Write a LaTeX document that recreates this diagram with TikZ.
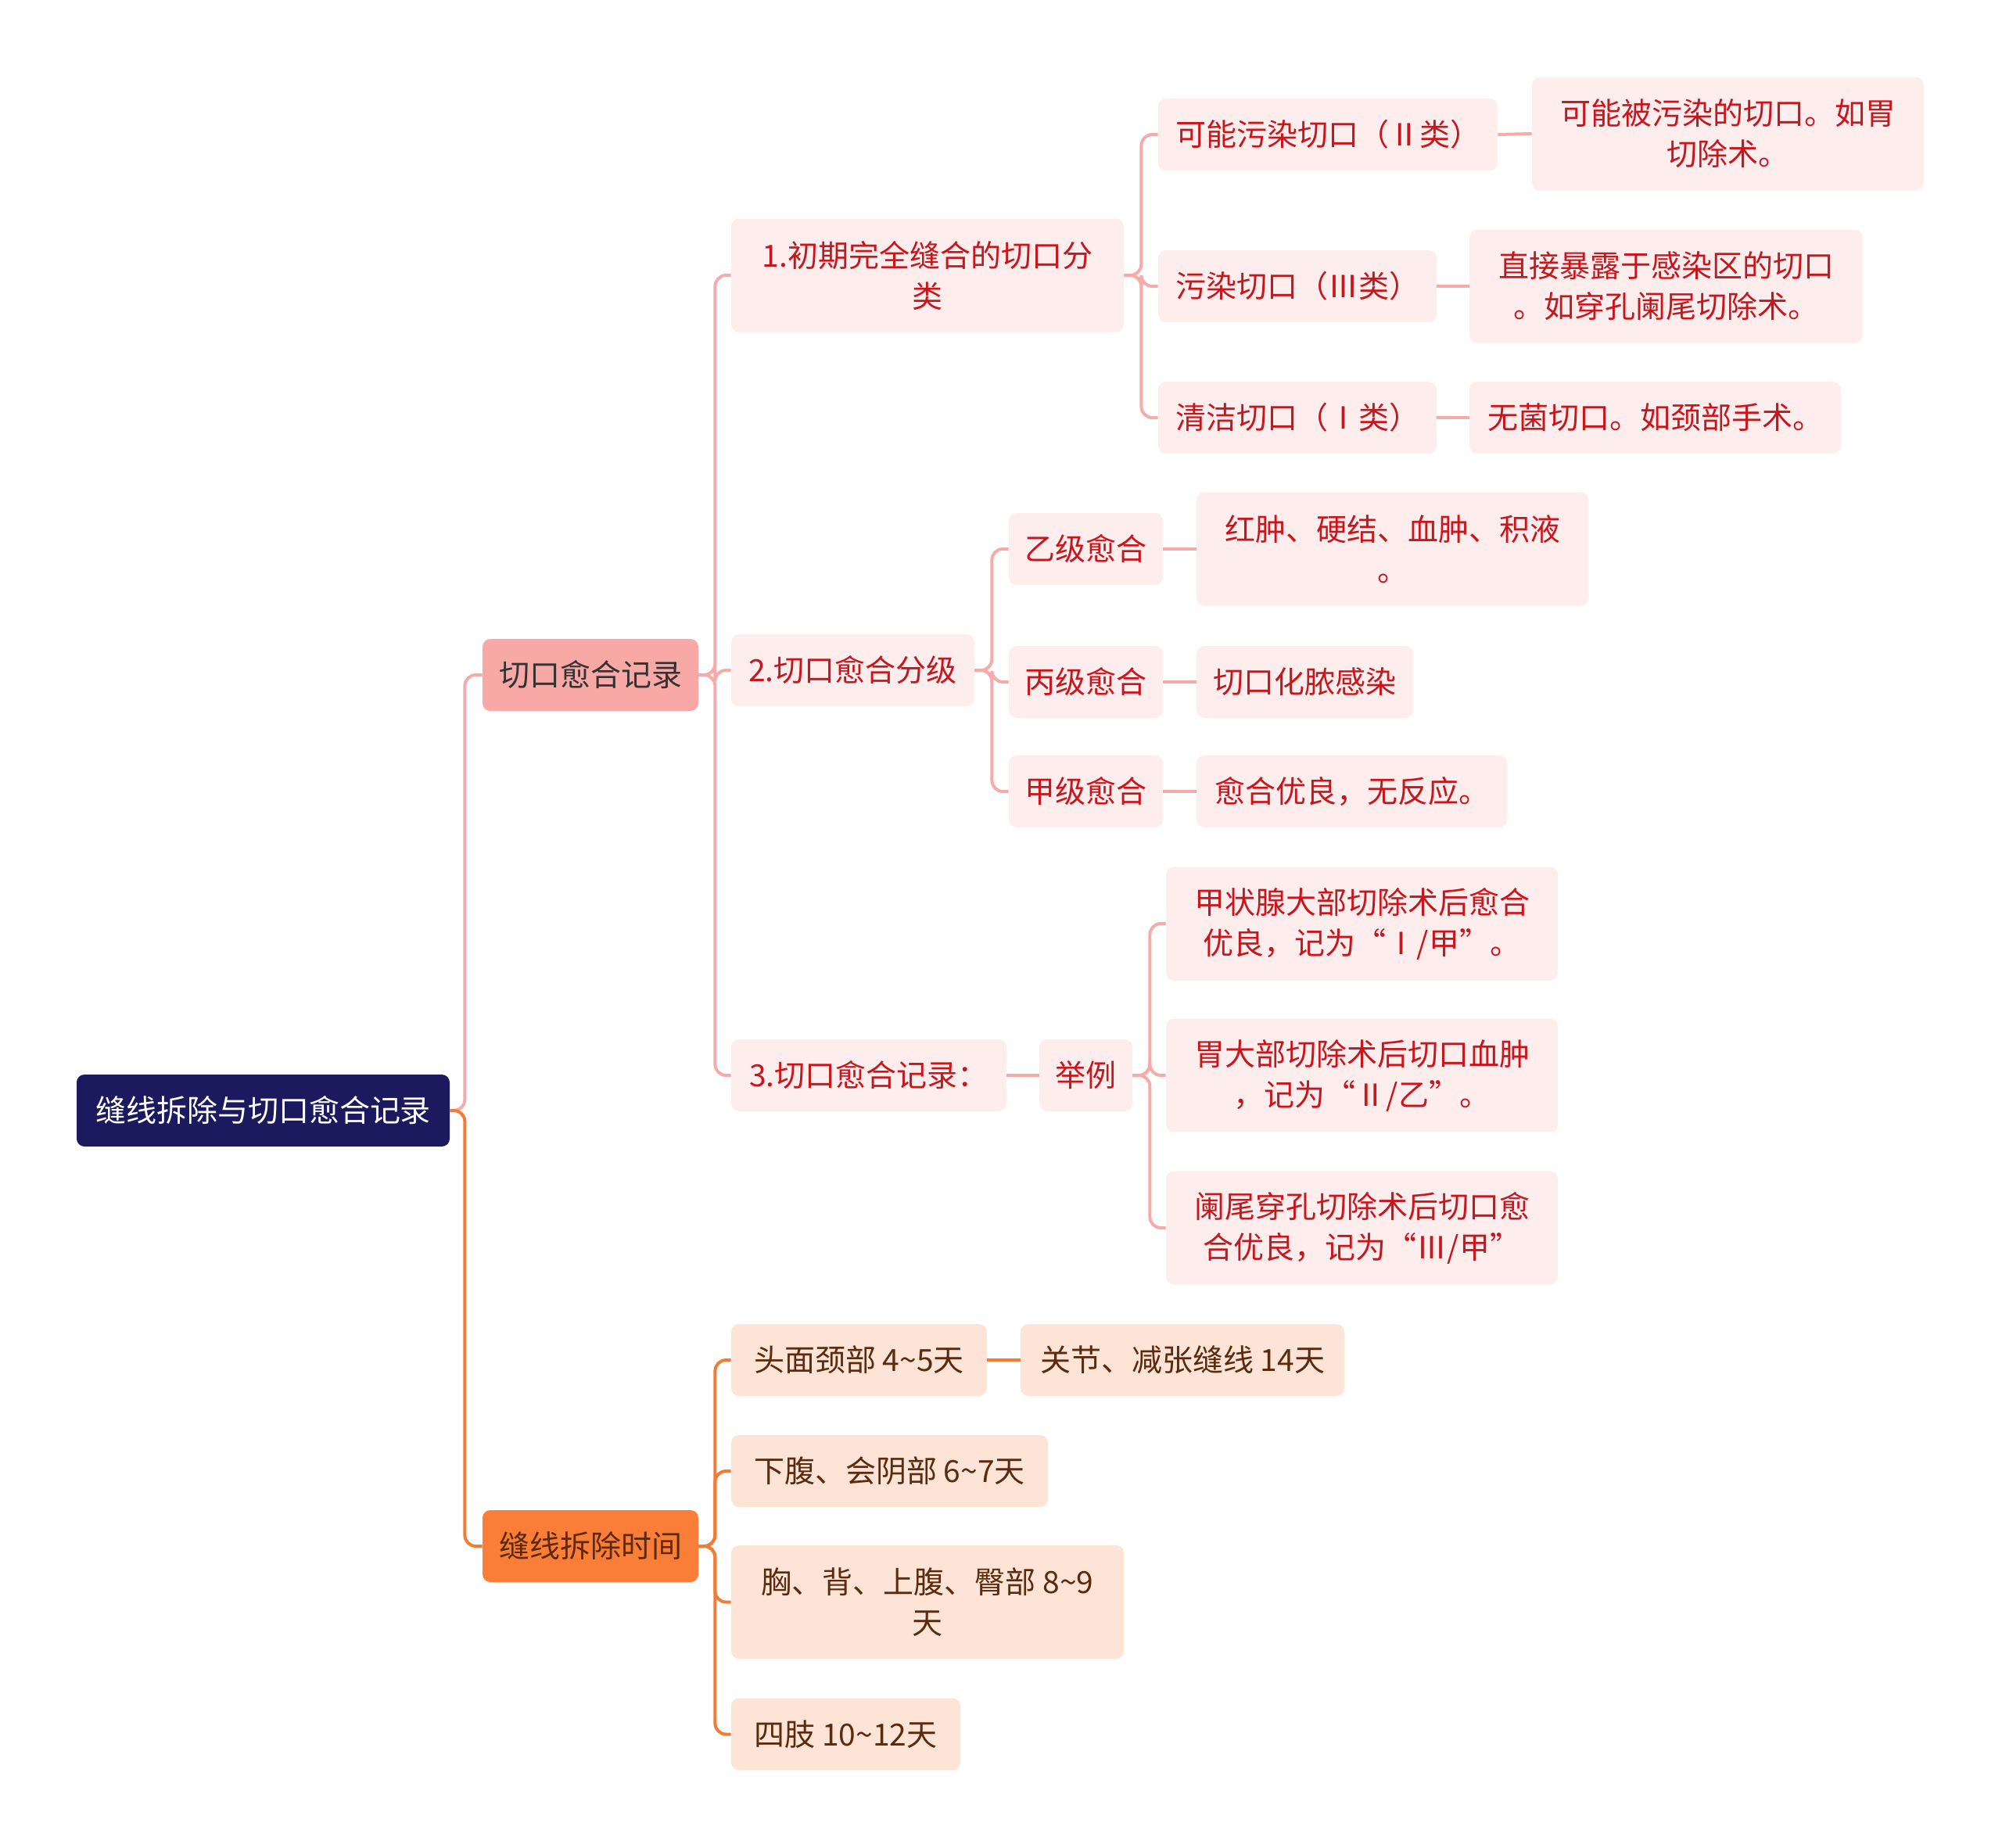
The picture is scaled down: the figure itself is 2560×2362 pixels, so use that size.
\documentclass[tikz,border=0pt]{standalone}
\usepackage{fontspec}
\setmainfont{Noto Sans CJK SC}
\usetikzlibrary{positioning}
\definecolor{navy}{HTML}{1C1A5E}
\definecolor{ink}{HTML}{333333}
\definecolor{pkfill}{HTML}{F8A9A6}
\definecolor{pklight}{HTML}{FDEDED}
\definecolor{pktext}{HTML}{C8161D}
\definecolor{pkline}{HTML}{F5ABAA}
\definecolor{orfill}{HTML}{FA7E37}
\definecolor{orlight}{HTML}{FDE4D6}
\definecolor{ortext}{HTML}{5C2A0C}
\definecolor{orline}{HTML}{F07C36}
\tikzset{
  box/.style={rounded corners=5pt,align=center,minimum height=46pt,inner xsep=4pt,
              font=\fontsize{19.5}{26}\selectfont},
  tall/.style={minimum height=72.5pt},
  rootbox/.style={box,fill=navy,text=white},
  pkmain/.style={box,fill=pkfill,text=ink},
  ormain/.style={box,fill=orfill,text=ortext},
  pksub/.style={box,fill=pklight,text=pktext},
  orsub/.style={box,fill=orlight,text=ortext},
  pkflow/.style={draw=pkline,line width=2pt,rounded corners=7pt},
  orflow/.style={draw=orline,line width=2pt,rounded corners=7pt},
}
\begin{document}
\begin{tikzpicture}[x=0.5pt,y=-0.5pt]
  \useasboundingbox (0,0) rectangle (2560,2362);
  % root and main branches
  \node[rootbox,minimum width=238.5pt] (root) at (336.5,1420) {缝线拆除与切口愈合记录};
  \node[pkmain,minimum width=138pt] (heal) at (755,863) {切口愈合记录};
  \node[ormain,minimum width=138pt] (cut) at (755,1977) {缝线拆除时间};
  % incision healing record
  \node[pksub,tall,minimum width=251pt] (kind) at (1186,352) {1.初期完全缝合的切口分\\类};
  \node[pksub,minimum width=155.5pt] (grade) at (1090.5,857) {2.切口愈合分级};
  \node[pksub,minimum width=176pt] (note) at (1111,1375) {3.切口愈合记录：};
  \node[pksub,minimum width=217pt] (kindB) at (1698,172) {可能污染切口（Ⅱ类）};
  \node[pksub,minimum width=178pt] (kindC) at (1659,366) {污染切口（Ⅲ类）};
  \node[pksub,minimum width=178pt] (kindA) at (1659,534) {清洁切口（Ⅰ类）};
  \node[pksub,tall,minimum width=250.5pt] (kindBx) at (2209.5,171) {可能被污染的切口。如胃\\切除术。};
  \node[pksub,tall,minimum width=251.5pt] (kindCx) at (2130.5,366) {直接暴露于感染区的切口\\。如穿孔阑尾切除术。};
  \node[pksub,minimum width=237.5pt] (kindAx) at (2116.5,534) {无菌切口。如颈部手术。};
  \node[pksub,minimum width=98.5pt] (gradeB) at (1388.5,702) {乙级愈合};
  \node[pksub,minimum width=98.5pt] (gradeC) at (1388.5,872) {丙级愈合};
  \node[pksub,minimum width=98.5pt] (gradeA) at (1388.5,1012) {甲级愈合};
  \node[pksub,tall,minimum width=250.5pt] (gradeBx) at (1780.5,702) {红肿、硬结、血肿、积液\\。};
  \node[pksub,minimum width=138.5pt] (gradeCx) at (1668.5,872) {切口化脓感染};
  \node[pksub,minimum width=198.5pt] (gradeAx) at (1728.5,1012) {愈合优良，无反应。};
  \node[pksub,minimum width=59.5pt] (eg) at (1388.5,1375) {举例};
  \node[pksub,tall,minimum width=250.5pt] (egA) at (1741.5,1181) {甲状腺大部切除术后愈合\\优良，记为“Ⅰ/甲”。};
  \node[pksub,tall,minimum width=250.5pt] (egB) at (1741.5,1375) {胃大部切除术后切口血肿\\，记为“Ⅱ/乙”。};
  \node[pksub,tall,minimum width=250.5pt] (egC) at (1741.5,1570) {阑尾穿孔切除术后切口愈\\合优良，记为“Ⅲ/甲”};
  % suture removal time
  \node[orsub,minimum width=163.5pt] (head) at (1098.5,1739) {头面颈部 4\textasciitilde 5天};
  \node[orsub,minimum width=207pt] (joint) at (1512,1739) {关节、减张缝线 14天};
  \node[orsub,minimum width=202.5pt] (belly) at (1137.5,1881) {下腹、会阴部 6\textasciitilde 7天};
  \node[orsub,tall,minimum width=251pt] (chest) at (1186,2048.5) {胸、背、上腹、臀部 8\textasciitilde 9\\天};
  \node[orsub,minimum width=146.5pt] (limb) at (1081.5,2217.5) {四肢 10\textasciitilde 12天};
  % connectors
  \draw[pkflow] (root.east) -- ++(19,0) |- (heal.west);
  \draw[orflow] (root.east) -- ++(19,0) |- (cut.west);
  \foreach \c in {kind,grade,note}
    \draw[pkflow] (heal.east) -- ++(21,0) |- (\c.west);
  \foreach \c in {kindB,kindC,kindA}
    \draw[pkflow] (kind.east) -- ++(22,0) |- (\c.west);
  \foreach \c in {gradeB,gradeC,gradeA}
    \draw[pkflow] (grade.east) -- ++(22,0) |- (\c.west);
  \foreach \c in {egA,egB,egC}
    \draw[pkflow] (eg.east) -- ++(22,0) |- (\c.west);
  \foreach \a in {kindB,kindC,kindA,gradeB,gradeC,gradeA}
    \draw[pkflow] (\a.east) -- (\a x.west);
  \draw[pkflow] (note) -- (eg);
  \foreach \c in {head,belly,chest,limb}
    \draw[orflow] (cut.east) -- ++(21,0) |- (\c.west);
  \draw[orflow] (head) -- (joint);
\end{tikzpicture}
\end{document}
